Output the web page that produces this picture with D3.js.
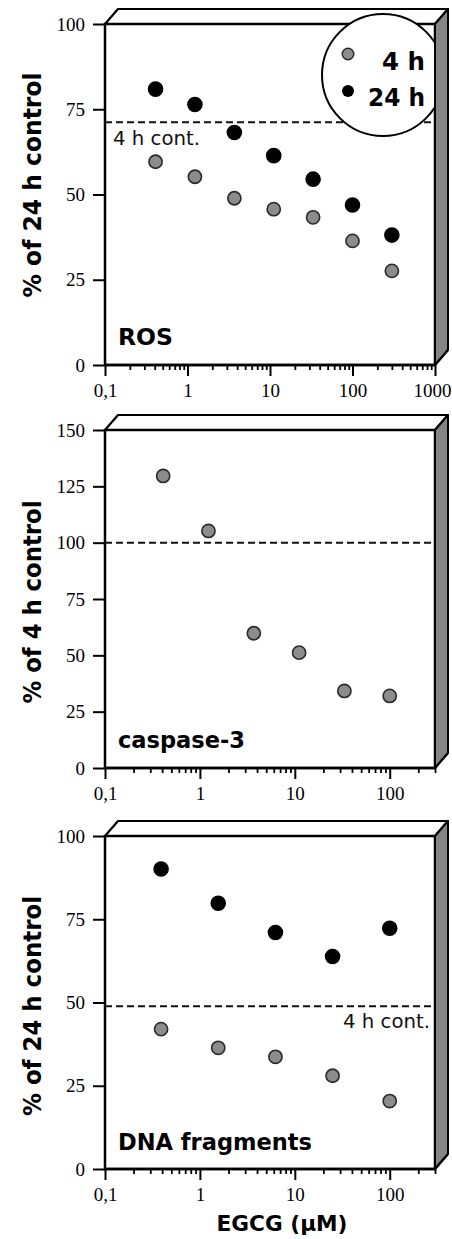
<!DOCTYPE html>
<html><head><meta charset="utf-8">
<script src="https://cdn.jsdelivr.net/npm/d3@7"></script>
<style>body{margin:0;background:#fff}svg{display:block}</style>
</head><body><svg id="c" width="452" height="1239"></svg>
<script>
// ---------- data ----------
const rosDose=[0.41,1.23,3.7,11.1,33.3,100,300];
const ros4h=[59.6,55.2,48.9,45.7,43.3,36.4,27.6];
const ros24h=[80.9,76.4,68.2,61.4,54.5,46.9,38.1];
const rosControl4h=71.2;
const caspDose=[0.41,1.23,3.7,11.1,33.3,100];
const casp4h=[129.6,105.2,59.8,51.2,34.2,32.0];
const caspControl4h=100;
const dnaDose=[0.39,1.56,6.25,25,100];
const dna4h=[42.0,36.4,33.7,28.0,20.4];
const dna24h=[90.1,79.8,71.0,63.8,72.3];
const dnaControl4h=48.9;
const yTicks100=[0,25,50,75,100];
const yTicks150=[0,25,50,75,100,125,150];
const xTicksRos=[0.1,1,10,100,1000];
const xTicksOther=[0.1,1,10,100];
const legendLabels=["4 h","24 h"];
const panelNames=["ROS","caspase-3","DNA fragments"];
const yTitles=["% of 24 h control","% of 4 h control","% of 24 h control"];
const xTitle="EGCG (\u00B5M)";
const controlLabel="4 h cont.";

// ---------- layout ----------
const X0=105, X1=435, DX=13, DY=15;
const COMIC="'Comic Sans MS','DejaVu Sans',sans-serif";
const SERIF="'Liberation Serif','Times New Roman',serif";
const GRAY="#8c8c8c", DOTSTROKE="#2a2a2a";
const svg=d3.select("#c");

const panels=[
 {top:24,bottom:365,yMax:100,yTicks:yTicks100,xMax:1000,xTicks:xTicksRos,
  yTitle:yTitles[0],yTitleCy:185,yTitleLen:225,name:panelNames[0],nameY:345,nameLen:55,
  series:[{x:rosDose,y:ros4h,c:"g"},{x:rosDose,y:ros24h,c:"b"}],
  control:rosControl4h,ctl:{x:113,y:145,anchor:"start"},legend:true},
 {top:430,bottom:768,yMax:150,yTicks:yTicks150,xMax:300,xTicks:xTicksOther,
  yTitle:yTitles[1],yTitleCy:602,yTitleLen:203,name:panelNames[1],nameY:748,nameLen:127,
  series:[{x:caspDose,y:casp4h,c:"g"}],control:caspControl4h,ctl:null,legend:false},
 {top:836,bottom:1169,yMax:100,yTicks:yTicks100,xMax:300,xTicks:xTicksOther,
  yTitle:yTitles[2],yTitleCy:1006,yTitleLen:220,name:panelNames[2],nameY:1150,nameLen:194,
  series:[{x:dnaDose,y:dna24h,c:"b"},{x:dnaDose,y:dna4h,c:"g"}],
  control:dnaControl4h,ctl:{x:430,y:1028,anchor:"end"},legend:false}
];

function minorTicks(max){
  const out=[];
  for(let d=0.1; d<max; d*=10){
    for(let k=2;k<=9;k++){const v=+(k*d).toPrecision(3); if(v<=max*1.0001) out.push(v);}
  }
  return out;
}

panels.forEach(p=>{
  const x=d3.scaleLog().domain([0.1,p.xMax]).range([X0,X1]);
  const y=d3.scaleLinear().domain([0,p.yMax]).range([p.bottom,p.top]);
  const g=svg.append("g");

  // top face
  g.append("path").attr("d",`M${X0},${p.top}L${X0+DX},${p.top-DY}L${X1+DX},${p.top-DY}L${X1},${p.top}Z`)
    .attr("fill","#fff").attr("stroke","#000").attr("stroke-width",2.2).attr("stroke-linejoin","round");
  // front frame
  g.append("rect").attr("x",X0).attr("y",p.top).attr("width",X1-X0).attr("height",p.bottom-p.top)
    .attr("fill","#fff").attr("stroke","#000").attr("stroke-width",2.5);

  // control dashed line
  g.append("line").attr("x1",X0).attr("x2",X1).attr("y1",y(p.control)).attr("y2",y(p.control))
    .attr("stroke","#111").attr("stroke-width",2).attr("stroke-dasharray","7,4");
  if(p.ctl){
    g.append("text").attr("x",p.ctl.x).attr("y",p.ctl.y).attr("text-anchor",p.ctl.anchor)
      .attr("font-family",COMIC).attr("font-size",20).attr("textLength",87).attr("lengthAdjust","spacingAndGlyphs")
      .attr("fill","#111").text(controlLabel);
  }

  // dots
  p.series.forEach(s=>{
    g.selectAll(null).data(s.x.map((d,i)=>[d,s.y[i]])).enter().append("circle")
      .attr("cx",d=>x(d[0])).attr("cy",d=>y(d[1])).attr("r",s.c==="b"?7:6.6)
      .attr("fill",s.c==="b"?"#000":GRAY).attr("stroke",s.c==="b"?"#000":DOTSTROKE).attr("stroke-width",1.6);
  });

  // legend
  if(p.legend){
    const L=g.append("g");
    L.append("circle").attr("cx",383).attr("cy",75).attr("r",61).attr("fill","#fff").attr("stroke","#000").attr("stroke-width",2);
    L.append("circle").attr("cx",348).attr("cy",54).attr("r",5.8).attr("fill",GRAY).attr("stroke",DOTSTROKE).attr("stroke-width",1.4);
    L.append("circle").attr("cx",348).attr("cy",91).attr("r",6).attr("fill","#000");
    L.append("text").attr("x",425).attr("y",70).attr("text-anchor","end").attr("font-family",COMIC)
      .attr("font-weight","bold").attr("font-size",24).attr("textLength",43).attr("lengthAdjust","spacingAndGlyphs").text(legendLabels[0]);
    L.append("text").attr("x",425).attr("y",106).attr("text-anchor","end").attr("font-family",COMIC)
      .attr("font-weight","bold").attr("font-size",24).attr("textLength",57).attr("lengthAdjust","spacingAndGlyphs").text(legendLabels[1]);
  }

  // right face (drawn last so it covers the legend edge)
  g.append("path").attr("d",`M${X1},${p.top}L${X1+DX},${p.top-DY}L${X1+DX},${p.bottom-DY}L${X1},${p.bottom}Z`)
    .attr("fill","#858585").attr("stroke","#000").attr("stroke-width",2).attr("stroke-linejoin","round");

  // y axis
  const ya=g.append("g").attr("transform",`translate(${X0},0)`)
    .call(d3.axisLeft(y).tickValues(p.yTicks).tickSize(12).tickPadding(8).tickFormat(d3.format("d")));
  ya.select(".domain").remove();
  ya.selectAll("line").attr("stroke","#000").attr("stroke-width",2);
  ya.selectAll("text").attr("font-family",SERIF).attr("font-size",19).attr("fill","#000");

  // x axis (major + minor)
  const xa=g.append("g").attr("transform",`translate(0,${p.bottom})`)
    .call(d3.axisBottom(x).tickValues(p.xTicks).tickSize(11).tickPadding(8).tickFormat(d=>String(d).replace(".",",")));
  xa.select(".domain").remove();
  xa.selectAll("line").attr("stroke","#000").attr("stroke-width",2);
  xa.selectAll("text").attr("font-family",SERIF).attr("font-size",19).attr("fill","#000");
  // keep the last label inside the page edge
  xa.selectAll(".tick text").filter(d=>x(d)>=X1-0.5).attr("text-anchor","end").attr("x",16);
  const xm=g.append("g").attr("transform",`translate(0,${p.bottom})`)
    .call(d3.axisBottom(x).tickValues(minorTicks(p.xMax)).tickSize(5).tickFormat(""));
  xm.select(".domain").remove();
  xm.selectAll("line").attr("stroke","#000").attr("stroke-width",1.8);
  g.append("line").attr("x1",X0).attr("x2",X1).attr("y1",p.bottom).attr("y2",p.bottom).attr("stroke","#000").attr("stroke-width",2.5);
  g.append("line").attr("x1",X1).attr("y1",p.bottom).attr("x2",X1+DX).attr("y2",p.bottom-DY).attr("stroke","#000").attr("stroke-width",2);

  // y title
  g.append("text").attr("transform",`translate(41,${p.yTitleCy}) rotate(-90)`).attr("text-anchor","middle")
    .attr("font-family",COMIC).attr("font-weight","bold").attr("font-size",25)
    .attr("textLength",p.yTitleLen).attr("lengthAdjust","spacingAndGlyphs").text(p.yTitle);

  // panel name
  g.append("text").attr("x",118).attr("y",p.nameY).attr("font-family",COMIC).attr("font-weight","bold")
    .attr("font-size",23).attr("textLength",p.nameLen).attr("lengthAdjust","spacingAndGlyphs").text(p.name);
});

// x title
svg.append("text").attr("x",282).attr("y",1231).attr("text-anchor","middle").attr("font-family",COMIC)
  .attr("font-weight","bold").attr("font-size",22).attr("textLength",131).attr("lengthAdjust","spacingAndGlyphs").text(xTitle);
</script>
</body></html>
